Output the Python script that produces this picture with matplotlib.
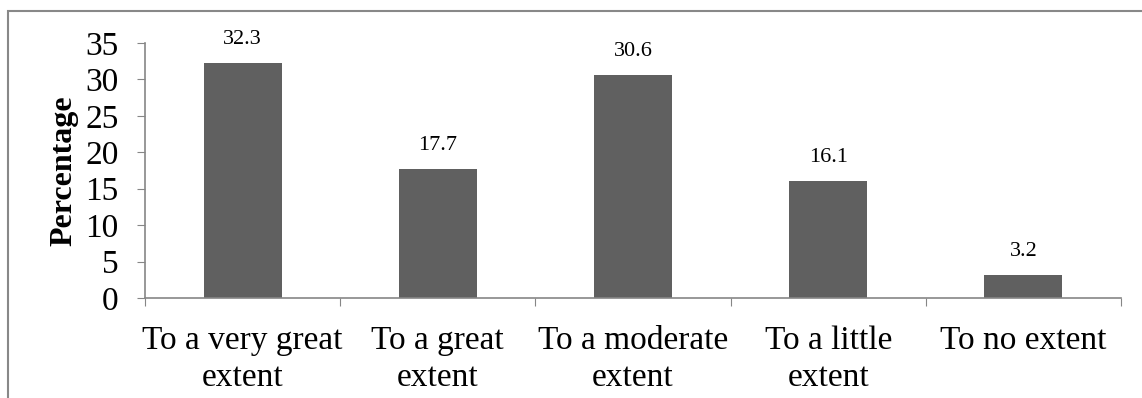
import matplotlib.pyplot as plt
from matplotlib.patches import Rectangle

categories = ["To a very great\nextent", "To a great\nextent", "To a moderate\nextent",
              "To a little\nextent", "To no extent"]
percentages = [32.3, 17.7, 30.6, 16.1, 3.2]
yticks = [0, 5, 10, 15, 20, 25, 30, 35]

plt.rcParams['font.family'] = ['Liberation Serif', 'DejaVu Serif']

fig = plt.figure(figsize=(11.42, 3.98), dpi=100)
ax = fig.add_axes([0.127, 0.2513, 0.8546, 0.6407])

x = list(range(len(categories)))
bars = ax.bar(x, percentages, width=0.4, color='#606060', zorder=2)
for b, v in zip(bars, percentages):
    ax.annotate(f"{v:.1f}", (b.get_x() + b.get_width() / 2, v), xytext=(0, 10),
                textcoords='offset points', ha='center', va='bottom', fontsize=16)

ax.set_xlim(-0.5, len(categories) - 0.5)
ax.set_ylim(0, 35)
ax.set_yticks(yticks)
ax.tick_params(axis='y', labelsize=24, length=6, color='#868686', pad=13)

# category labels sit between the boundary ticks
ax.set_xticks([i - 0.5 for i in range(len(categories) + 1)])
ax.set_xticklabels([])
ax.set_xticks(x, minor=True)
ax.set_xticklabels(categories, minor=True, fontsize=24, linespacing=1.28)
ax.tick_params(axis='x', which='major', length=6, color='#868686')
ax.tick_params(axis='x', which='minor', length=0, pad=20)

for s in ['top', 'right']:
    ax.spines[s].set_visible(False)
for s in ['left', 'bottom']:
    ax.spines[s].set_color('#868686')
    ax.spines[s].set_linewidth(1.2)

ax.set_ylabel("Percentage", fontsize=23, fontweight='bold', labelpad=5)

# outer chart border, cut off at right and bottom
fig.patches.append(Rectangle((8 / 1142, -0.05), 1.1, 1 - 11 / 398 + 0.05,
                             transform=fig.transFigure, fill=False,
                             edgecolor='#888888', linewidth=1.5))

fig.savefig("out.png", dpi=100)
